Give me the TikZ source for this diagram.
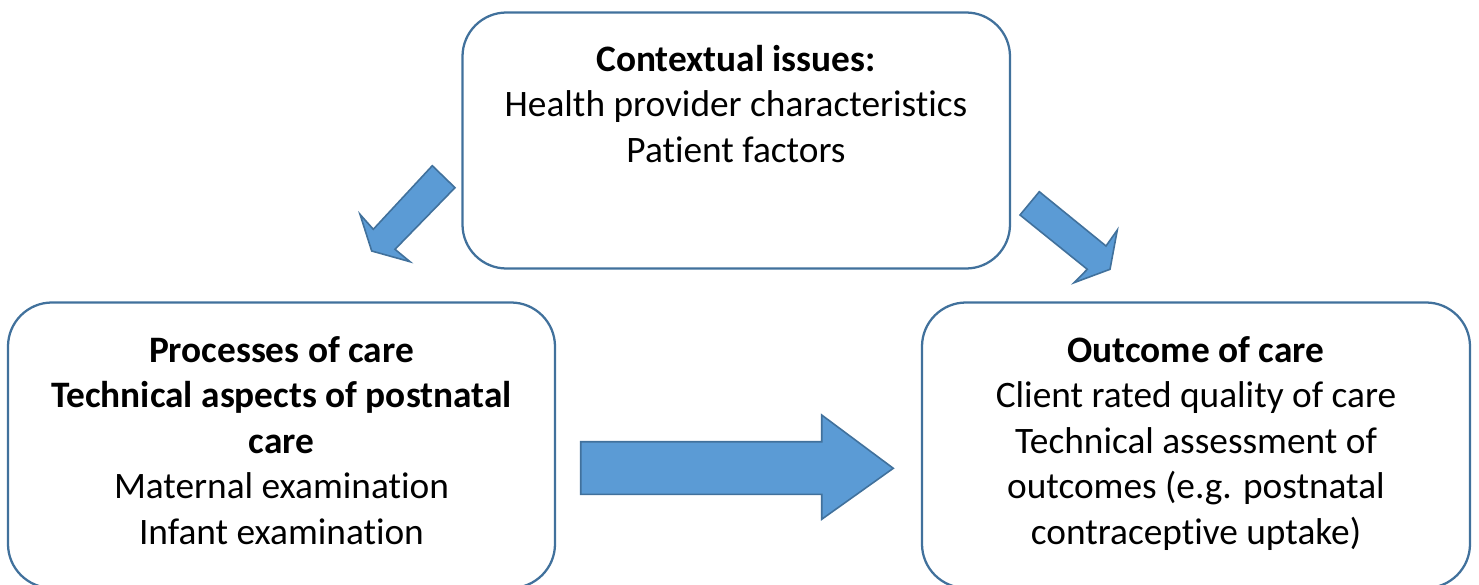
\documentclass[tikz,border=0pt]{standalone}
\usepackage{fontspec}
\setmainfont{Carlito}[Ligatures=NoCommon]
\definecolor{boxline}{HTML}{41719C}
\definecolor{arrowfill}{HTML}{5B9BD5}
\tikzset{
  x=0.75pt, y=-0.75pt,
  roundbox/.style={draw=boxline, line width=1.7pt, fill=white, rounded corners=33pt},
  blockarrow/.style={draw=boxline, line width=1.2pt, fill=arrowfill, line join=miter},
  boxtext/.style={align=center, inner sep=0pt, anchor=base, font=\fontsize{28}{34.1}\selectfont}
}
\begin{document}
\begin{tikzpicture}
\useasboundingbox (0,0) rectangle (1479,585);
\clip (0,0) rectangle (1479,585);
% boxes
\draw[roundbox] (462.5,12.5) rectangle (1010,268.5);
\draw[roundbox] (8,302.5) rectangle (555,588);
\draw[roundbox] (922,302.5) rectangle (1470,588);
% arrows
\draw[blockarrow] (432.3,165.7) -- (455,187.7) -- (395,249.3) -- (410,261.7) -- (371.7,251) -- (360,214.3) -- (373.3,229.3) -- cycle;
\draw[blockarrow] (1039.3,191.7) -- (1106,246) -- (1117.3,230) -- (1110,269.3) -- (1074,282.7) -- (1087.3,269.3) -- (1020,215) -- cycle;
\draw[blockarrow] (580.7,441.7) -- (821.7,441.7) -- (821.7,415) -- (893.3,468.3) -- (821.7,519.3) -- (821.7,494.3) -- (580.7,494.3) -- cycle;
% texts
\node[boxtext] (ctx) at (736,162) {\textbf{Contextual issues:}\\Health provider characteristics\\Patient factors};
\node[boxtext] (proc) at (281.5,544) {\textbf{Processes of care}\\\textbf{Technical aspects of postnatal}\\\textbf{care}\\Maternal examination\\Infant examination};
\node[boxtext] (out) at (1196,544) {\textbf{Outcome of care}\\Client rated quality of care\\Technical assessment of\\outcomes (e.g. postnatal\\contraceptive uptake)};
\end{tikzpicture}
\end{document}
